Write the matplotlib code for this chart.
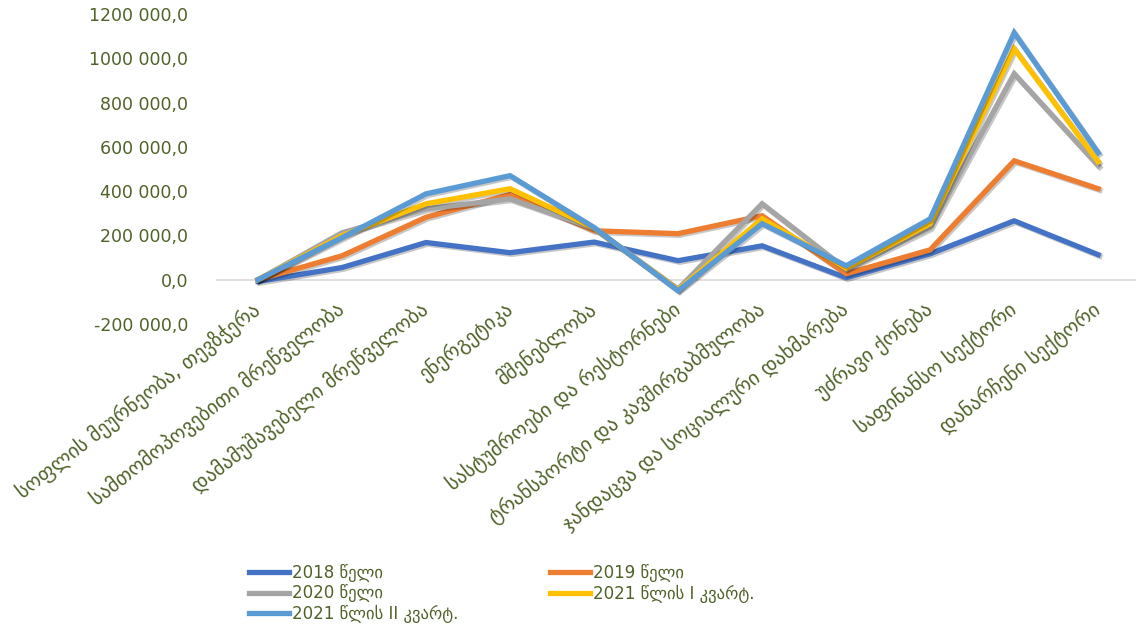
import matplotlib
matplotlib.use('Agg')
import matplotlib.pyplot as plt
import matplotlib.patheffects as pe
from matplotlib.ticker import FuncFormatter

# sectors (x categories)
sectors = [
    'სოფლის მეურნეობა, თევზჭერა',
    'სამთომოპოვებითი მრეწველობა',
    'დამამუშავებელი მრეწველობა',
    'ენერგეტიკა',
    'მშენებლობა',
    'სასტუმროები და რესტორნები',
    'ტრანსპორტი და კავშირგაბმულობა',
    'ჯანდაცვა და სოციალური დახმარება',
    'უძრავი ქონება',
    'საფინანსო სექტორი',
    'დანარჩენი სექტორი',
]

# values
y2018 = [-8000, 55000, 168000, 122000, 170000, 86000, 153000, 9000, 117000, 266000, 113000]
y2019 = [0, 108000, 282000, 385000, 221000, 208000, 289000, 27000, 135000, 537000, 411000]
y2020 = [0, 212000, 320000, 365000, 232000, -42000, 343000, 48000, 235000, 930000, 515000]
y2021_1 = [0, 199000, 343000, 411000, 234000, -46000, 275000, 52000, 253000, 1043000, 533000]
y2021_2 = [0, 190000, 388000, 470000, 236000, -50000, 253000, 63000, 275000, 1115000, 573000]

labels = ['2018 წელი', '2019 წელი', '2020 წელი', '2021 წლის I კვარტ.', '2021 წლის II კვარტ.']
colors = ['#4472C4', '#ED7D31', '#A5A5A5', '#FFC000', '#5B9BD5']
series = [y2018, y2019, y2020, y2021_1, y2021_2]

txt_color = '#4F6228'
plt.rcParams['font.family'] = ['DejaVu Sans']

fig = plt.figure(figsize=(11.36, 6.30), dpi=100)
ax = fig.add_axes([216 / 1136, 306 / 630, 920 / 1136, 310 / 630])

x = list(range(len(sectors)))
shadow = [pe.SimpleLineShadow(offset=(1.2, -1.2), shadow_color='black', alpha=0.22),
          pe.Normal()]
lines = []
for vals, lab, col in zip(series, labels, colors):
    ln, = ax.plot(x, vals, color=col, lw=3.8, label=lab, solid_joinstyle='miter',
                  path_effects=shadow)
    lines.append(ln)

ax.axhline(0, color='#D9D9D9', lw=1.2, zorder=0)
ax.set_xlim(-0.5, 10.45)
ax.set_ylim(-200000, 1200000)
ax.set_yticks(range(-200000, 1200001, 200000))


def fmt(v, pos):
    v = int(round(v))
    if v == 0:
        return '0,0'
    sign = '-' if v < 0 else ''
    v = abs(v)
    return f'{sign}{v // 1000} {v % 1000:03d},0'


ax.yaxis.set_major_formatter(FuncFormatter(fmt))
ax.set_xticks(x)
ax.set_xticklabels(sectors, rotation=38, ha='right', va='center',
                   rotation_mode='anchor', fontsize=14.5, color=txt_color)
ax.tick_params(axis='x', length=0, pad=-12)
ax.tick_params(axis='y', length=0, pad=20, labelsize=12.5, labelcolor=txt_color)
for s in ax.spines.values():
    s.set_visible(False)

# row-wise legend order like the original
order = [0, 2, 4, 1, 3]
leg = fig.legend([lines[i] for i in order], [labels[i] for i in order],
                 loc='upper left', bbox_to_anchor=(242 / 1136, 1 - 557 / 630),
                 ncol=2, frameon=False, fontsize=12, handlelength=2.4,
                 handletextpad=0.2, columnspacing=5.5, labelspacing=0.15,
                 borderaxespad=0)
for t in leg.get_texts():
    t.set_color(txt_color)
for h in leg.get_lines():
    h.set_linewidth(3.8)
    h.set_path_effects([])

fig.savefig('out.png', dpi=100)
